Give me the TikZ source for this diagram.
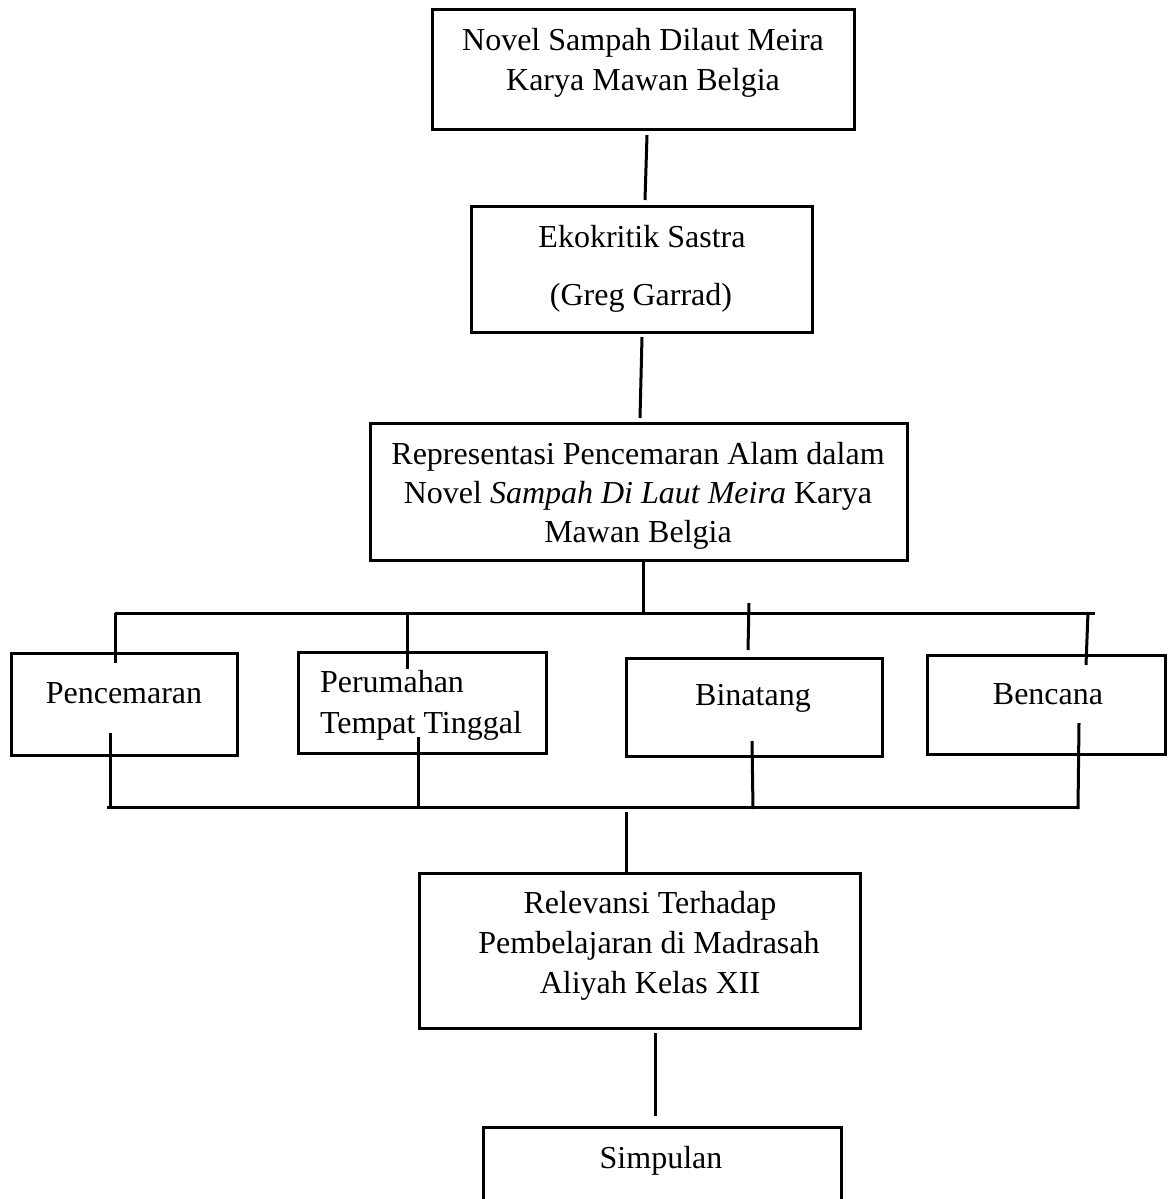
\documentclass[tikz,border=0pt]{standalone}
\usepackage{fontspec}
\setmainfont{Liberation Serif}
\begin{document}
\begin{tikzpicture}[x=1pt,y=-1pt,
  box/.style={draw,line width=3pt,inner sep=0pt,outer sep=0pt},
  txt/.style={inner sep=0pt,outer sep=0pt,anchor=base,font=\fontsize{32}{39}\selectfont},
  txtl/.style={txt,anchor=base west},
  conn/.style={line width=3pt}]
\useasboundingbox (0,0) rectangle (1167,1199);
\clip (0,0) rectangle (1167,1199);

% boxes
\node[box,minimum width=422pt,minimum height=119pt] (b1) at (643,69.5) {};
\node[box,minimum width=341pt,minimum height=126pt] (b2) at (641.5,269) {};
\node[box,minimum width=537pt,minimum height=137pt] (b3) at (638.5,491.5) {};
\node[box,minimum width=226pt,minimum height=102pt] (p1) at (124,704) {};
\node[box,minimum width=248pt,minimum height=101pt] (p2) at (422,702.5) {};
\node[box,minimum width=256pt,minimum height=98pt] (p3) at (754,707) {};
\node[box,minimum width=238pt,minimum height=99pt] (p4) at (1046,704.5) {};
\node[box,minimum width=441pt,minimum height=155pt] (b5) at (639.5,950.5) {};
\node[box,minimum width=358pt,minimum height=103pt] (b6) at (662,1178.5) {};

% texts
\node[txt] (t1a) at (643,51) {Novel Sampah Dilaut Meira};
\node[txt] (t1b) at (643,90) {Karya Mawan Belgia};
\node[txt] (t2a) at (642,247) {Ekokritik Sastra};
\node[txt] (t2b) at (641,305) {(Greg Garrad)};
\node[txt] (t3a) at (638,464) {Representasi Pencemaran Alam dalam};
\node[txt] (t3b) at (638,503) {Novel \textit{Sampah Di Laut Meira} Karya};
\node[txt] (t3c) at (638,542) {Mawan Belgia};
\node[txt] (tp1) at (124,703) {Pencemaran};
\node[txtl] (tp2a) at (320,692) {Perumahan};
\node[txtl] (tp2b) at (320,733) {Tempat Tinggal};
\node[txt] (tp3) at (753,705) {Binatang};
\node[txt] (tp4) at (1048,704) {Bencana};
\node[txt] (t5a) at (650,913) {Relevansi Terhadap};
\node[txt] (t5b) at (649,953) {Pembelajaran di Madrasah};
\node[txt] (t5c) at (650,993) {Aliyah Kelas XII};
\node[txt] (t6) at (661,1168) {Simpulan};

% connector end points
\coordinate (l1a) at (647,135);  \coordinate (l1b) at (645,200);
\coordinate (l2a) at (642,337);  \coordinate (l2b) at (640,418);
\coordinate (l3a) at (643,560);  \coordinate (l3b) at (643,613);
\coordinate (tbl) at (115,613);  \coordinate (tbr) at (1095,613);
\coordinate (d1a) at (115,613);  \coordinate (d1b) at (115,663);
\coordinate (d2a) at (407,612);  \coordinate (d2b) at (407,669);
\coordinate (d3a) at (749,603);  \coordinate (d3b) at (748,650);
\coordinate (d4a) at (1088,612); \coordinate (d4b) at (1086,665);
\coordinate (r1a) at (110,733);  \coordinate (r1b) at (110,807);
\coordinate (r2a) at (418,737);  \coordinate (r2b) at (418,807);
\coordinate (r3a) at (752,741);  \coordinate (r3b) at (753,809);
\coordinate (r4a) at (1079,723); \coordinate (r4b) at (1078,809);
\coordinate (bbl) at (107,807);  \coordinate (bbr) at (1079,807);
\coordinate (l4a) at (626,812);  \coordinate (l4b) at (626,872);
\coordinate (l5a) at (655,1033); \coordinate (l5b) at (655,1116);

% connectors
\draw[conn] (l1a) -- (l1b);
\draw[conn] (l2a) -- (l2b);
\draw[conn] (l3a) -- (l3b);
\draw[conn] (tbl) -- (tbr);
\draw[conn] (d1a) -- (d1b);
\draw[conn] (d2a) -- (d2b);
\draw[conn] (d3a) -- (d3b);
\draw[conn] (d4a) -- (d4b);
\draw[conn] (r1a) -- (r1b);
\draw[conn] (r2a) -- (r2b);
\draw[conn] (r3a) -- (r3b);
\draw[conn] (r4a) -- (r4b);
\draw[conn] (bbl) -- (bbr);
\draw[conn] (l4a) -- (l4b);
\draw[conn] (l5a) -- (l5b);
\end{tikzpicture}
\end{document}
